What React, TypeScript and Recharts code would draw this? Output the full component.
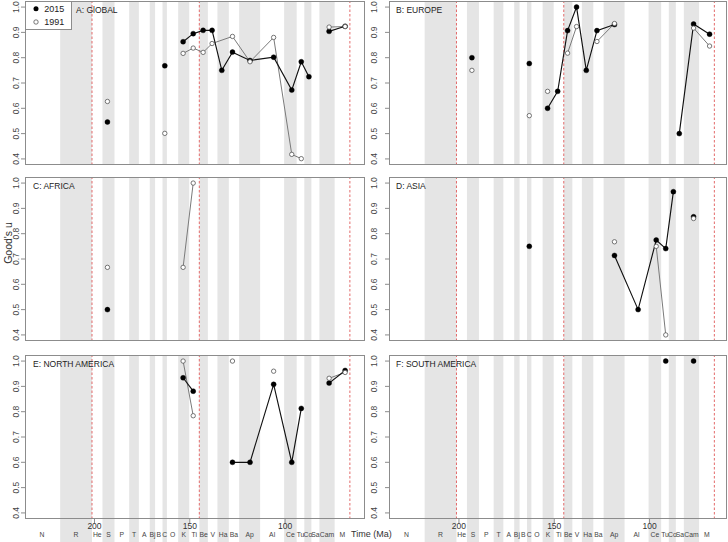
import React from 'react';
import {
  ComposedChart,
  Line,
  XAxis,
  YAxis,
  ReferenceArea,
  ReferenceLine,
  Legend,
} from 'recharts';

// geological stages, Norian .. Maastrichtian, and their boundaries (Ma)
const stageNames = ['N', 'R', 'He', 'S', 'P', 'T', 'A', 'Bj', 'B', 'C', 'O', 'K', 'Ti', 'Be', 'V', 'Ha', 'Ba', 'Ap', 'Al', 'Ce', 'Tu', 'Co', 'Sa', 'Cam', 'M'];
const stageBounds = [237, 218, 201.3, 195.8, 189.5, 181.8, 176.7, 171, 168.2, 164.3, 162, 156.1, 150.3, 145, 140.5, 135.5, 129.5, 124.1, 113.1, 100.5, 93.9, 89.9, 86.2, 82, 74, 66];

// age at which each sampled stage is plotted (Ma)
const sampleAge: Record<string, number> = {
  S: 193.2, C: 163.1, K: 153.5, Ti: 148.2, Be: 143, V: 138.3, Ha: 133.2, Ba: 127.6,
  Ap: 118.4, Al: 106, Ce: 96.5, Tu: 91.5, Co: 87.5, Sa: 84.4, Cam: 76.9, M: 68.5,
};

// mass extinction boundaries (red dashed)
const boundaryAges = [201.3, 145, 66];
const timeTicks = [200, 150, 100];
const uTicks = [0.4, 0.5, 0.6, 0.7, 0.8, 0.9, 1.0];

// each series = list of connected runs of [stage, Good's u]
type Seg = [string, number][];

const global2015: Seg[] = [
  [['S', 0.546]],
  [['C', 0.768]],
  [['K', 0.863], ['Ti', 0.895], ['Be', 0.908], ['V', 0.908], ['Ha', 0.75], ['Ba', 0.822], ['Ap', 0.789], ['Al', 0.802], ['Ce', 0.672], ['Tu', 0.784], ['Co', 0.725]],
  [['Cam', 0.904], ['M', 0.924]],
];
const global1991: Seg[] = [
  [['S', 0.627]],
  [['C', 0.501]],
  [['K', 0.817], ['Ti', 0.838], ['Be', 0.821], ['V', 0.856], ['Ba', 0.884], ['Ap', 0.784], ['Al', 0.88], ['Ce', 0.418], ['Tu', 0.401]],
  [['Cam', 0.921], ['M', 0.923]],
];

const europe2015: Seg[] = [
  [['S', 0.8]],
  [['C', 0.777]],
  [['K', 0.6], ['Ti', 0.667], ['Be', 0.907], ['V', 1.0], ['Ha', 0.75], ['Ba', 0.907], ['Ap', 0.931]],
  [['Sa', 0.5], ['Cam', 0.933], ['M', 0.893]],
];
const europe1991: Seg[] = [
  [['S', 0.75]],
  [['C', 0.571]],
  [['K', 0.667]],
  [['Be', 0.818], ['V', 0.923]],
  [['Ba', 0.864], ['Ap', 0.935]],
  [['Cam', 0.917], ['M', 0.846]],
];

const africa2015: Seg[] = [
  [['S', 0.5]],
];
const africa1991: Seg[] = [
  [['S', 0.667]],
  [['K', 0.667], ['Ti', 1.0]],
];

const asia2015: Seg[] = [
  [['C', 0.75]],
  [['Ap', 0.714], ['Al', 0.5], ['Ce', 0.775], ['Tu', 0.741], ['Co', 0.966]],
  [['Cam', 0.867]],
];
const asia1991: Seg[] = [
  [['Ap', 0.768]],
  [['Ce', 0.75], ['Tu', 0.4]],
  [['Cam', 0.86]],
];

const northAmerica2015: Seg[] = [
  [['K', 0.934], ['Ti', 0.881]],
  [['Ba', 0.6], ['Ap', 0.6], ['Al', 0.908], ['Ce', 0.6], ['Tu', 0.813]],
  [['Cam', 0.913], ['M', 0.963]],
];
const northAmerica1991: Seg[] = [
  [['K', 1.0], ['Ti', 0.784]],
  [['Ba', 1.0]],
  [['Al', 0.96]],
  [['Cam', 0.932], ['M', 0.955]],
];

const southAmerica2015: Seg[] = [
  [['Tu', 1.0]],
  [['Cam', 1.0]],
];
const southAmerica1991: Seg[] = [];

const regions = [
  { title: 'A: GlOBAL', s2015: global2015, s1991: global1991 },
  { title: 'B: EUROPE', s2015: europe2015, s1991: europe1991 },
  { title: 'C: AFRICA', s2015: africa2015, s1991: africa1991 },
  { title: 'D: ASIA', s2015: asia2015, s1991: asia1991 },
  { title: 'E: NORTH AMERICA', s2015: northAmerica2015, s1991: northAmerica1991 },
  { title: 'F: SOUTH AMERICA', s2015: southAmerica2015, s1991: southAmerica1991 },
];

const FONT = "'Liberation Sans', Arial, sans-serif";
const NARROW = "'Liberation Sans Narrow', 'Liberation Sans', Arial, sans-serif";
const FRAME = '#8c8c8c';
const BAND = '#e5e5e5';
const RED = '#e36a6a';

// layout of the 3x2 grid (plot areas in px)
const COL_LEFT = [25, 388.5];
const COL_WIDTH = [340, 338.5];
const COL_DOMAIN: [number, number][] = [[58.07, 236.45], [59.1, 236.7]];
const ROW_TOP = [1, 177, 355];
const PLOT_H = 164;
const Y_DOMAIN: [number, number] = [0.376, 1.024];

const stageMid = stageNames.map((_, i) => (stageBounds[i] + stageBounds[i + 1]) / 2);
const toPoints = (seg: Seg) => seg.map(([stage, u]) => ({ age: sampleAge[stage], u }));

const UTick = (props: any) => {
  const { x, y, payload } = props;
  return (
    <text transform={`translate(${x},${y}) rotate(-90)`} textAnchor="middle" fontSize={8.5} fontFamily={FONT} fill="#444">
      {Number(payload.value).toFixed(1)}
    </text>
  );
};

const TimeTick = (props: any) => {
  const { x, y, payload } = props;
  return (
    <text x={x} y={y + 5.5} textAnchor="middle" fontSize={8.5} fontFamily={FONT} fill="#333">
      {payload.value}
    </text>
  );
};

const StageTick = (props: any) => {
  const { x, y, payload } = props;
  return (
    <text x={x} y={y + 4.5} textAnchor="middle" fontSize={6.8} fontFamily={NARROW} fill="#444">
      {stageNames[stageMid.indexOf(payload.value)]}
    </text>
  );
};

const LegendBox = () => (
  <svg width={47} height={28.5} style={{ display: 'block', background: '#fff', border: `1px solid ${FRAME}`, boxSizing: 'border-box' }}>
    <circle cx={10} cy={6.8} r={2.5} fill="#000" />
    <text x={18.3} y={10} fontSize={9} fontFamily={FONT} fill="#222">2015</text>
    <circle cx={10} cy={20} r={2.2} fill="#fff" stroke="#555" strokeWidth={0.8} />
    <text x={18.3} y={23} fontSize={9} fontFamily={FONT} fill="#222">1991</text>
  </svg>
);

const Panel = ({ index }: { index: number }) => {
  const region = regions[index];
  const col = index % 2;
  const row = Math.floor(index / 2);
  const bottom = row === 2;
  const yAxisW = col === 0 ? 25 : 30;
  const mt = 1;
  const mr = 2;
  const mb = bottom ? 542 - (ROW_TOP[row] + PLOT_H) : 8;
  const width = yAxisW + COL_WIDTH[col] + mr;
  const height = mt + PLOT_H + mb;
  const shaded = stageNames.map((_, i) => i).filter((i) => i % 2 === 1);
  const runs1991 = region.s1991.filter((seg) => seg.length > 1);

  return (
    <div style={{ position: 'absolute', left: COL_LEFT[col] - yAxisW, top: ROW_TOP[row] - mt, width, height }}>
      <ComposedChart width={width} height={height} margin={{ top: mt, right: mr, bottom: 0, left: 0 }}>
        {shaded.map((i) => (
          <ReferenceArea
            key={`band-${i}`}
            x1={stageBounds[i + 1]}
            x2={stageBounds[i]}
            y1={bottom ? 0.28 : Y_DOMAIN[0]}
            y2={Y_DOMAIN[1]}
            fill={BAND}
            fillOpacity={1}
            stroke="none"
            ifOverflow="visible"
          />
        ))}
        {boundaryAges.map((a) => (
          <ReferenceLine key={`red-${a}`} x={a} stroke={RED} strokeWidth={1} strokeDasharray="2.5 2" />
        ))}
        <XAxis
          type="number"
          dataKey="age"
          domain={COL_DOMAIN[col]}
          reversed
          allowDataOverflow
          ticks={timeTicks}
          interval={0}
          height={bottom ? 13 : mb}
          axisLine={false}
          tickSize={4}
          tickMargin={0}
          tickLine={{ stroke: FRAME }}
          tick={bottom ? TimeTick : false}
        />
        {bottom && (
          <XAxis
            xAxisId="stage"
            type="number"
            dataKey="age"
            domain={COL_DOMAIN[col]}
            reversed
            allowDataOverflow
            ticks={stageMid}
            interval={0}
            height={mb - 13}
            axisLine={false}
            tickLine={false}
            tickSize={0}
            tickMargin={0}
            tick={StageTick}
          />
        )}
        <YAxis
          type="number"
          domain={Y_DOMAIN}
          allowDataOverflow
          ticks={uTicks}
          interval={0}
          width={yAxisW}
          axisLine={false}
          tickSize={4}
          tickMargin={col === 0 ? 2.5 : 8.5}
          tickLine={{ stroke: FRAME }}
          tick={UTick}
        />
        {runs1991.map((seg, i) => (
          <Line
            key={`l91-${i}`}
            data={toPoints(seg)}
            dataKey="u"
            stroke="#7a7a7a"
            strokeWidth={1}
            dot={false}
            activeDot={false}
            isAnimationActive={false}
          />
        ))}
        {region.s2015.map((seg, i) => (
          <Line
            key={`l15-${i}`}
            data={toPoints(seg)}
            dataKey="u"
            stroke="#111"
            strokeWidth={1.15}
            dot={{ r: 2.5, fill: '#000', stroke: '#000', strokeWidth: 0.4 }}
            activeDot={false}
            isAnimationActive={false}
          />
        ))}
        {region.s1991.map((seg, i) => (
          <Line
            key={`d91-${i}`}
            data={toPoints(seg)}
            dataKey="u"
            stroke="none"
            strokeWidth={0.8}
            dot={{ r: 2.2, fill: '#fff', stroke: '#555', strokeWidth: 0.8 }}
            activeDot={false}
            isAnimationActive={false}
          />
        ))}
        {index === 0 && (
          <Legend
            layout="vertical"
            align="center"
            verticalAlign="middle"
            content={LegendBox}
            wrapperStyle={{ left: yAxisW, top: mt, width: 47, height: 28.5 }}
          />
        )}
      </ComposedChart>
      <div
        style={{
          position: 'absolute',
          left: yAxisW,
          top: mt,
          width: COL_WIDTH[col],
          height: PLOT_H,
          border: `1px solid ${FRAME}`,
          boxSizing: 'border-box',
          pointerEvents: 'none',
        }}
      />
    </div>
  );
};

export default function App() {
  return (
    <div style={{ position: 'relative', width: 728, height: 542, overflow: 'hidden', background: '#fff' }}>
      <style>{'body{margin:0}'}</style>
      {regions.map((_, i) => (
        <Panel key={i} index={i} />
      ))}
      <svg width={728} height={542} style={{ position: 'absolute', left: 0, top: 0, pointerEvents: 'none' }}>
        {regions.map((r, i) => {
          const col = i % 2;
          const row = Math.floor(i / 2);
          const x = COL_LEFT[col] + (i === 0 ? 51 : col === 0 ? 8 : 7.5);
          return (
            <text key={r.title} x={x} y={ROW_TOP[row] + 12} fontSize={8.5} fontFamily={NARROW} fill="#222">
              {r.title}
            </text>
          );
        })}
        <text transform="translate(11.5,243) rotate(-90)" textAnchor="middle" fontSize={10.5} fontFamily={FONT} fill="#333">
          Good's u
        </text>
        <text x={351} y={536.5} fontSize={9} fontFamily={FONT} fill="#333">
          Time (Ma)
        </text>
      </svg>
    </div>
  );
}
